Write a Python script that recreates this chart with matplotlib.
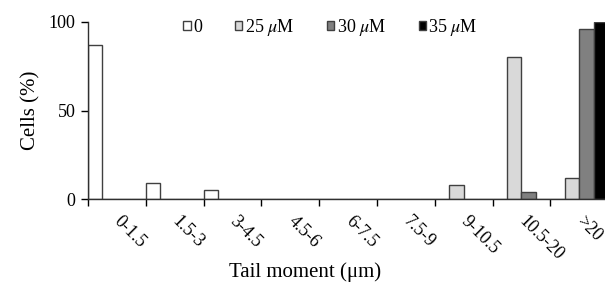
import numpy as np
import matplotlib.pyplot as plt

plt.rcParams['font.family'] = ['Liberation Serif', 'DejaVu Serif']
plt.rcParams['mathtext.fontset'] = 'stix'

# data
categories = ['0-1.5', '1.5-3', '3-4.5', '4.5-6', '6-7.5', '7.5-9', '9-10.5', '10.5-20', '>20']
labels = ['0', r'25 $\mu$M', r'30 $\mu$M', r'35 $\mu$M']
ctrl = [87, 9, 5, 0, 0, 0, 0, 0, 0]
c25 = [0, 0, 0, 0, 0, 0, 8, 80, 12]
c30 = [0, 0, 0, 0, 0, 0, 0, 4, 96]
c35 = [0, 0, 0, 0, 0, 0, 0, 0, 100]
colors = ['white', '#d9d9d9', '#808080', 'black']

fig = plt.figure(figsize=(6.05, 2.89), dpi=100)
ax = fig.add_axes([0.1455, 0.311, 0.8545, 0.613])

x = np.arange(len(categories))
w = 0.25
for k, vals in enumerate([ctrl, c25, c30, c35]):
    ax.bar(x + k * w, vals, width=w, align='edge', color=colors[k],
           edgecolor='#404040', linewidth=1.0, label=labels[k])

ax.set_xlim(0, 8.945)
ax.set_ylim(0, 100)
ax.set_yticks([0, 50, 100])
ax.tick_params(axis='y', labelsize=13, length=5, width=1, pad=4)

ax.set_xticks(np.arange(len(categories)))
ax.set_xticklabels([])
ax.tick_params(axis='x', which='major', length=5, width=1, direction='out')
ax.set_xticks(x + 0.5, minor=True)
ax.set_xticklabels(categories, minor=True, rotation=-45, ha='left',
                   va='center', rotation_mode='anchor', fontsize=13)
ax.tick_params(axis='x', which='minor', length=0, pad=14)

for s in ['top', 'right']:
    ax.spines[s].set_visible(False)
for s in ['left', 'bottom']:
    ax.spines[s].set_linewidth(1)
    ax.spines[s].set_color('#303030')

ax.set_ylabel('Cells (%)', fontsize=15, labelpad=6)
fig.text(0.505, 0.04, 'Tail moment (\u03bcm)', fontsize=15, ha='center')

ax.legend(ncol=4, loc='upper left', bbox_to_anchor=(0.153, 1.12), frameon=False,
          fontsize=13, handlelength=0.4, handleheight=0.4, handletextpad=0.15,
          columnspacing=1.8)

fig.savefig('out.png', dpi=100)
